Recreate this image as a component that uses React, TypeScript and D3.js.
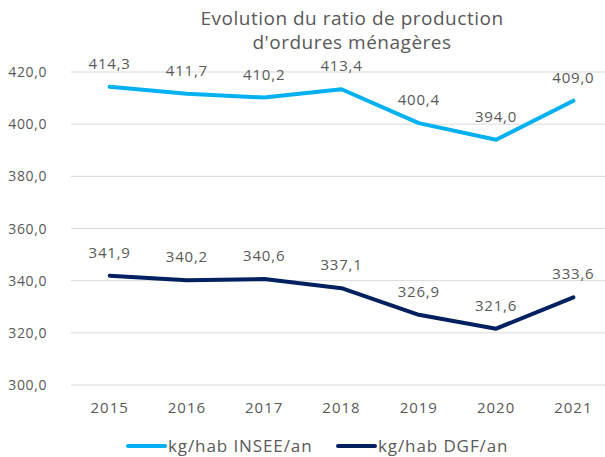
import React from "react";
import * as d3 from "d3";

const years = ["2015", "2016", "2017", "2018", "2019", "2020", "2021"];
const insee = [414.3, 411.7, 410.2, 413.4, 400.4, 394.0, 409.0];
const dgf = [341.9, 340.2, 340.6, 337.1, 326.9, 321.6, 333.6];
const yTicks = [300, 320, 340, 360, 380, 400, 420];
const titleLines = ["Evolution du ratio de production", "d'ordures ménagères"];

const series = [
  { name: "kg/hab INSEE/an", values: insee, color: "#00b0f0" },
  { name: "kg/hab DGF/an", values: dgf, color: "#002060" },
];

const fmt = (v: number) => v.toFixed(1).replace(".", ",");

export default function App() {
  const width = 605;
  const height = 457;
  const font = "'Open Sans', sans-serif";
  const textColor = "#595959";

  const x = d3.scaleBand().domain(years).range([71, 612]);
  const y = d3.scaleLinear().domain([300, 420]).range([385, 72]);
  const cx = (i: number) => x(years[i])! + x.bandwidth() / 2;
  const line = d3
    .line<number>()
    .x((d, i) => cx(i))
    .y((d) => y(d));

  return (
    <svg
      width={width}
      height={height}
      style={{ position: "absolute", left: 0, top: 0, background: "#fff" }}
      fontFamily={font}
    >
      {titleLines.map((t, i) => (
        <text
          key={t}
          x={352}
          y={25 + i * 24}
          textAnchor="middle"
          fontSize={19}
          letterSpacing={0.5}
          fill={textColor}
        >
          {t}
        </text>
      ))}

      {yTicks.map((t) => (
        <g key={t}>
          <line x1={71} x2={width} y1={y(t)} y2={y(t)} stroke="#d9d9d9" strokeWidth={1} />
          <text x={47} y={y(t) + 5} textAnchor="end" fontSize={14} letterSpacing={0.6} fill={textColor}>
            {fmt(t)}
          </text>
        </g>
      ))}

      {years.map((yr, i) => (
        <text
          key={yr}
          x={cx(i)}
          y={413}
          textAnchor="middle"
          fontSize={15}
          letterSpacing={1}
          fill={textColor}
        >
          {yr}
        </text>
      ))}

      {series.map((s) => (
        <g key={s.name}>
          <path
            d={line(s.values)!}
            fill="none"
            stroke={s.color}
            strokeWidth={4}
            strokeLinejoin="round"
            strokeLinecap="round"
          />
          {s.values.map((v, i) => (
            <text
              key={i}
              x={cx(i)}
              y={y(v) - 18}
              textAnchor="middle"
              fontSize={15}
              letterSpacing={0.8}
              fill={textColor}
            >
              {fmt(v)}
            </text>
          ))}
        </g>
      ))}

      {series.map((s, i) => {
        const lx = 128 + i * 210;
        return (
          <g key={s.name}>
            <line x1={lx} x2={lx + 37} y1={446} y2={446} stroke={s.color} strokeWidth={4} strokeLinecap="round" />
            <text x={lx + 40} y={452} fontSize={17} letterSpacing={0.9} fill={textColor}>
              {s.name}
            </text>
          </g>
        );
      })}
    </svg>
  );
}
